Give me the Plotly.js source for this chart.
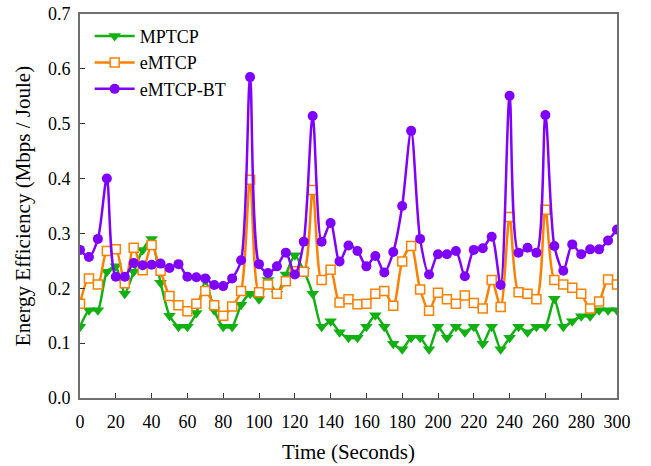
<!DOCTYPE html>
<html>
<head>
<meta charset="utf-8">
<script src="https://cdn.plot.ly/plotly-3.0.1.min.js"></script>
<style>html,body{margin:0;padding:0;background:#fff;}#chart{width:651px;height:466px;}</style>
</head>
<body>
<div id="chart"></div>
<script>
const timeSeconds = [0,5,10,15,20,25,30,35,40,45,50,55,60,65,70,75,80,85,90,95,100,105,110,115,120,125,130,135,140,145,150,155,160,165,170,175,180,185,190,195,200,205,210,215,220,225,230,235,240,245,250,255,260,265,270,275,280,285,290,295,300];

const mptcp = [0.13,0.16,0.16,0.23,0.24,0.19,0.23,0.27,0.29,0.21,0.15,0.13,0.13,0.155,0.215,0.16,0.13,0.13,0.17,0.19,0.18,0.215,0.19,0.225,0.26,0.232,0.19,0.13,0.14,0.12,0.11,0.11,0.13,0.151,0.13,0.099,0.089,0.11,0.11,0.089,0.13,0.11,0.13,0.12,0.13,0.099,0.13,0.089,0.11,0.13,0.12,0.13,0.13,0.181,0.13,0.14,0.149,0.149,0.16,0.16,0.16];

const emtcp = [0.172,0.218,0.207,0.268,0.271,0.209,0.274,0.233,0.279,0.232,0.186,0.169,0.158,0.172,0.195,0.169,0.15,0.167,0.195,0.398,0.193,0.207,0.19,0.213,0.231,0.23,0.379,0.215,0.234,0.174,0.18,0.171,0.172,0.19,0.195,0.168,0.249,0.277,0.198,0.159,0.192,0.18,0.172,0.187,0.173,0.163,0.215,0.166,0.33,0.193,0.19,0.18,0.343,0.215,0.207,0.201,0.19,0.163,0.176,0.216,0.207];

const emtcpBT = [0.27,0.257,0.29,0.40,0.221,0.221,0.246,0.242,0.243,0.245,0.237,0.244,0.221,0.22,0.218,0.206,0.204,0.218,0.251,0.585,0.244,0.228,0.24,0.265,0.225,0.285,0.514,0.285,0.319,0.249,0.278,0.268,0.24,0.259,0.229,0.266,0.35,0.487,0.29,0.225,0.262,0.262,0.268,0.222,0.27,0.273,0.294,0.206,0.551,0.265,0.274,0.265,0.516,0.277,0.232,0.28,0.262,0.271,0.271,0.287,0.307];

const seriesNames = ['MPTCP','eMTCP','eMTCP-BT'];
const xTicks = [0,20,40,60,80,100,120,140,160,180,200,220,240,260,280,300];
const yTicks = [0.0,0.1,0.2,0.3,0.4,0.5,0.6,0.7];

const GREEN = '#12b012', ORANGE = '#ff8000', PURPLE = '#8000ff';
const SERIF = '"Liberation Serif", "Times New Roman", serif';

const traces = [
  {x: timeSeconds, y: mptcp, name: seriesNames[0], mode: 'lines+markers',
   line: {color: GREEN, width: 2.5, shape: 'spline', smoothing: 0.6},
   marker: {symbol: 'triangle-down', size: 11, color: GREEN}},
  {x: timeSeconds, y: emtcp, name: seriesNames[1], mode: 'lines+markers',
   line: {color: ORANGE, width: 2.5, shape: 'spline', smoothing: 0.8},
   marker: {symbol: 'square', size: 9, color: '#ffffff', line: {color: ORANGE, width: 1.5}}},
  {x: timeSeconds, y: emtcpBT, name: seriesNames[2], mode: 'lines+markers',
   line: {color: PURPLE, width: 2.5, shape: 'spline', smoothing: 0.8},
   marker: {symbol: 'circle', size: 10, color: PURPLE}}
];

const tickFont = {family: SERIF, size: 18, color: '#000'};
const titleFont = {family: SERIF, size: 21, color: '#000'};

const layout = {
  width: 651, height: 466,
  margin: {l: 80, r: 34, t: 14, b: 68},
  paper_bgcolor: '#fff', plot_bgcolor: '#fff',
  font: tickFont,
  showlegend: true,
  legend: {x: 0.018, y: 0.99, xanchor: 'left', yanchor: 'top',
           bgcolor: 'rgba(0,0,0,0)', borderwidth: 0,
           font: {family: SERIF, size: 18, color: '#000'},
           tracegroupgap: 0, itemwidth: 40},
  xaxis: {range: [0, 300], tickvals: xTicks, ticktext: xTicks.map(String),
          showgrid: false, zeroline: false,
          showline: true, linecolor: '#6f6f6f', linewidth: 2, mirror: true,
          ticks: 'inside', ticklen: 5, tickwidth: 1, tickcolor: '#333',
          tickfont: tickFont, ticklabelstandoff: 6,
          title: {text: 'Time (Seconds)', font: titleFont, standoff: 14}},
  yaxis: {range: [0, 0.7], tickvals: yTicks, ticktext: yTicks.map(v => v.toFixed(1)),
          showgrid: false, zeroline: false,
          showline: true, linecolor: '#6f6f6f', linewidth: 2, mirror: true,
          ticks: 'inside', ticklen: 5, tickwidth: 1, tickcolor: '#333',
          tickfont: tickFont, ticklabelstandoff: 4,
          title: {text: 'Energy Efficiency (Mbps / Joule)', font: titleFont, standoff: 12}}
};

Plotly.newPlot('chart', traces, layout, {displayModeBar: false, staticPlot: true});
</script>
</body>
</html>
